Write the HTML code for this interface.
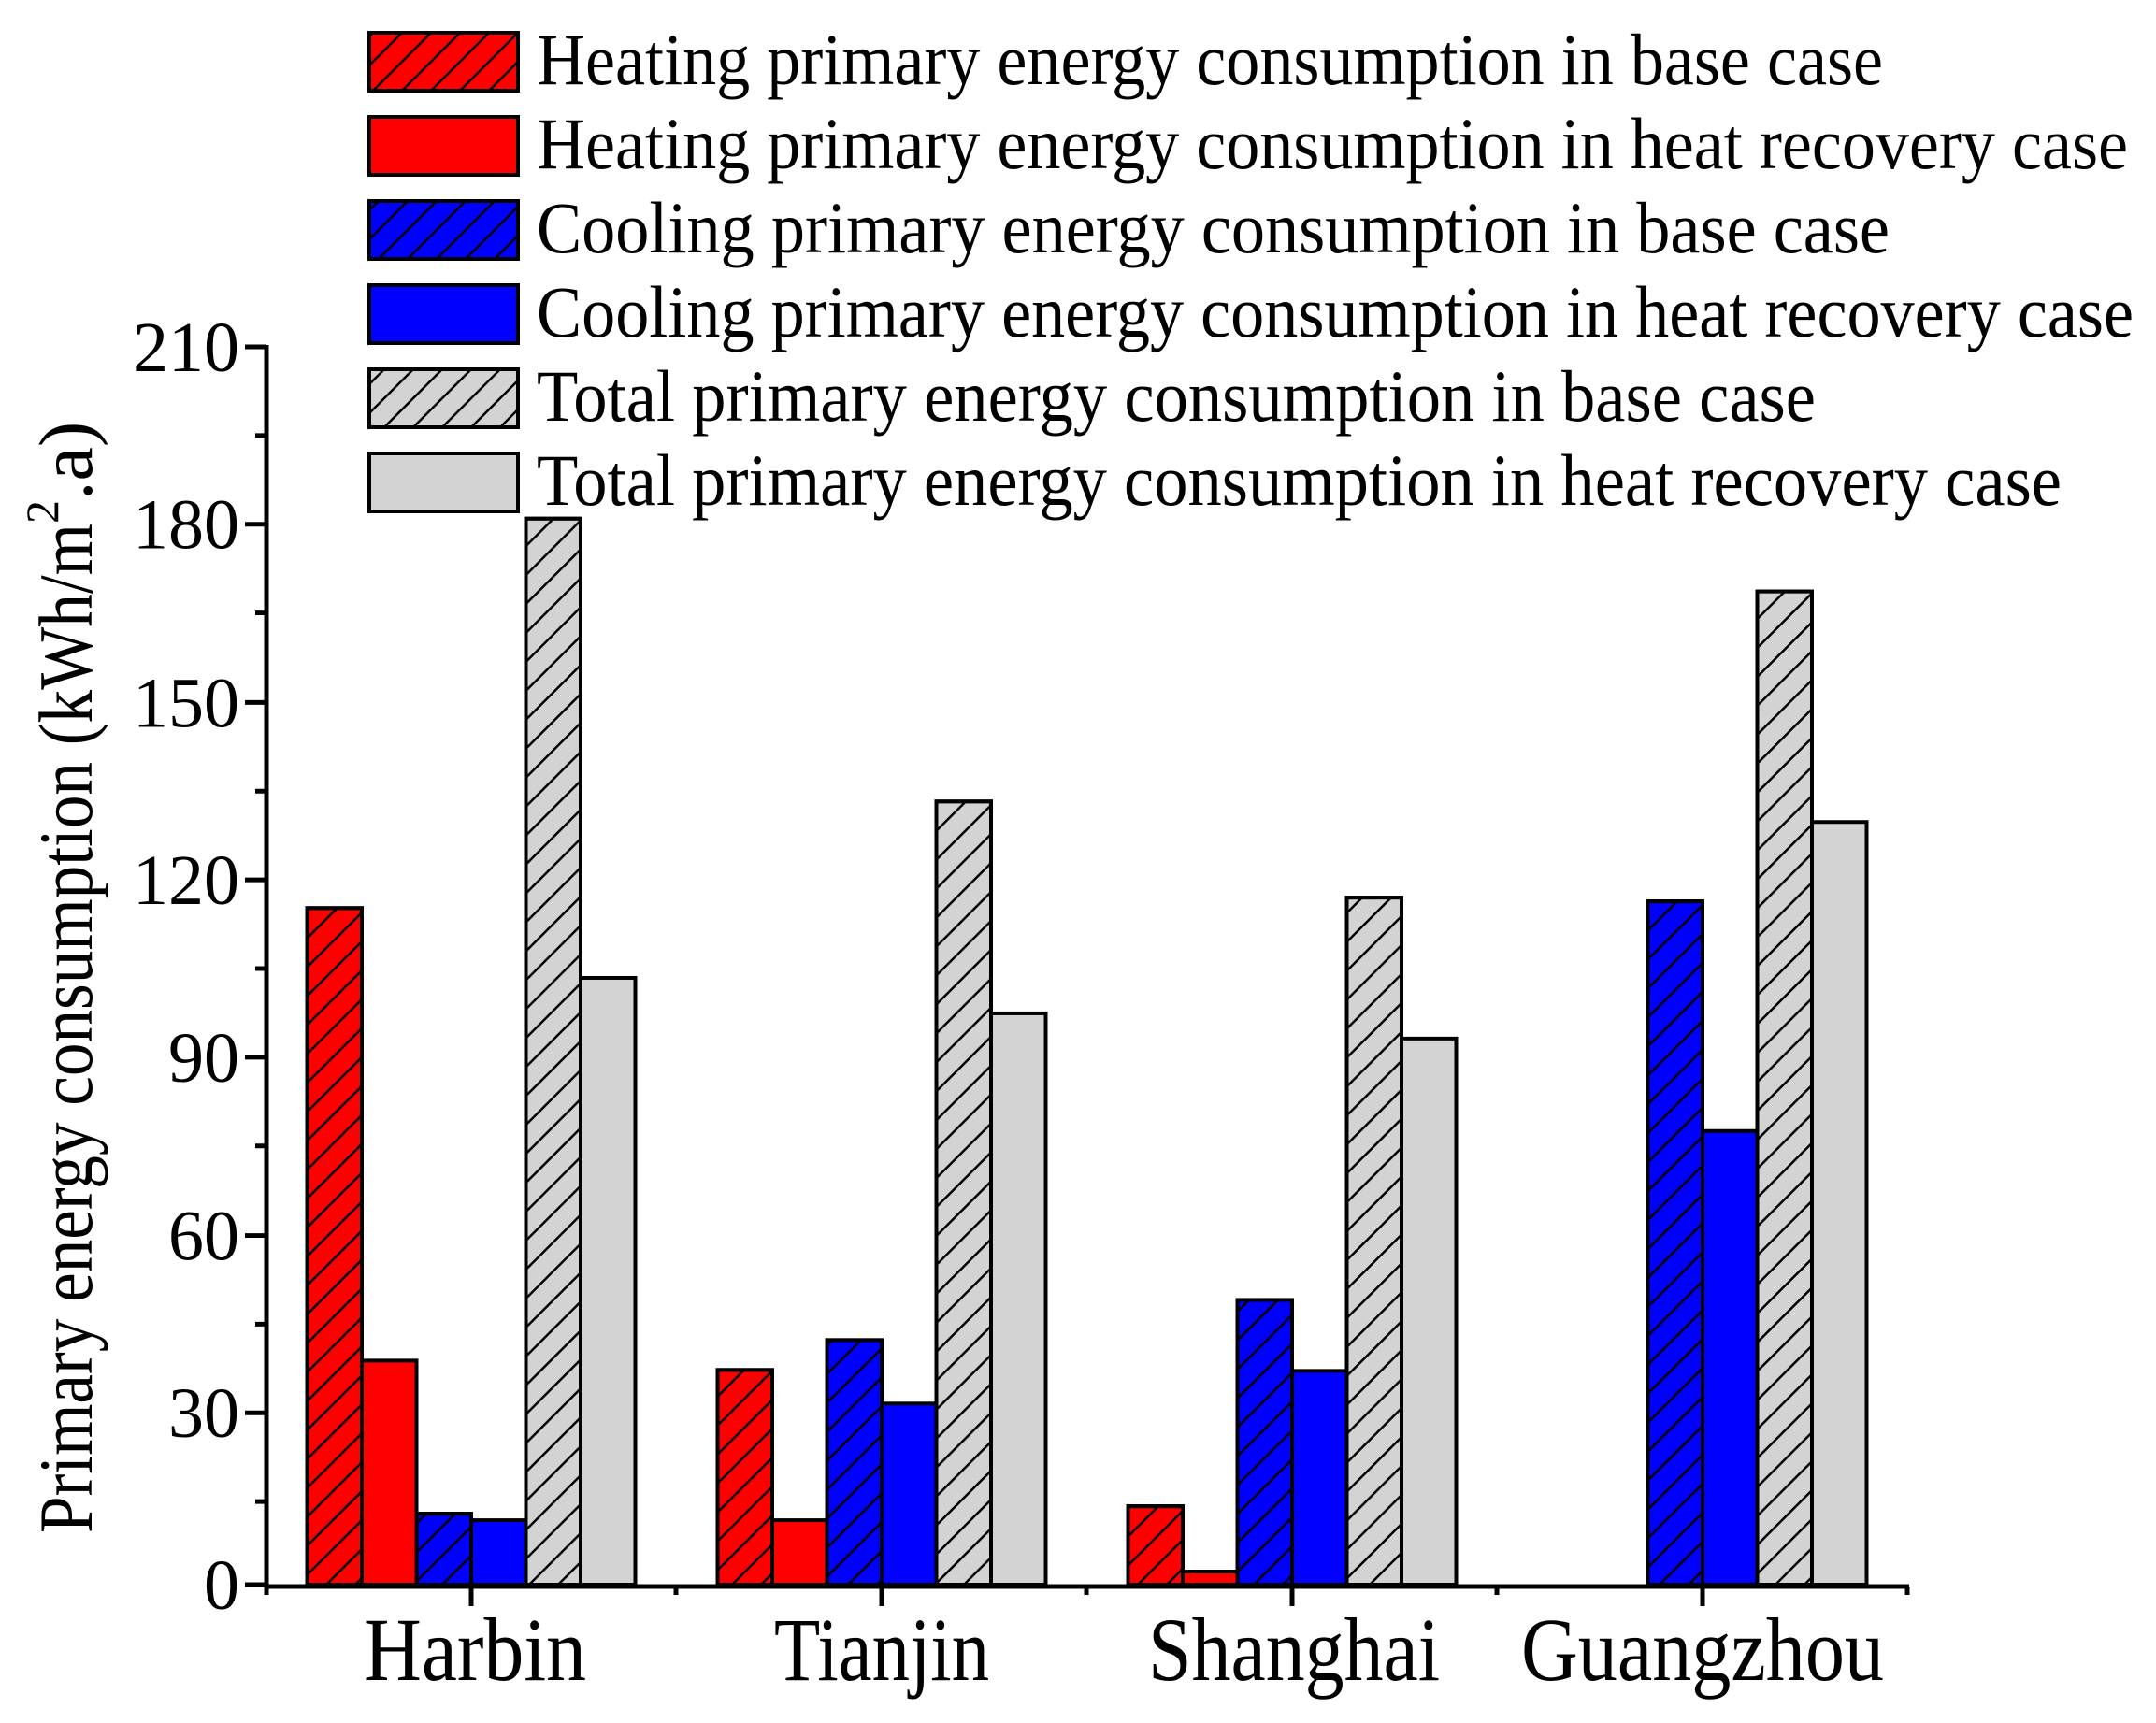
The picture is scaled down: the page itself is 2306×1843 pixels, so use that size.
<!DOCTYPE html>
<html><head><meta charset="utf-8"><style>
html,body{margin:0;padding:0;background:#fff;}
svg{display:block;}
text{font-family:"Liberation Serif",serif;fill:#000;}
</style></head><body>
<svg width="2306" height="1843" viewBox="0 0 2306 1843" xmlns="http://www.w3.org/2000/svg">
<defs>
<pattern id="h" patternUnits="userSpaceOnUse" width="31" height="31">
<path d="M-4,35 L35,-4 M-4,4 L4,-4 M27,35 L35,27" stroke="#000" stroke-width="2.5"/>
</pattern>
</defs>
<g transform="translate(0,1695) scale(1,0.9985) translate(0,-1697)">
<g stroke="#000" stroke-width="4">
<rect x="328.5" y="972.2" width="58.5" height="724.8" fill="#f00"/><rect x="328.5" y="972.2" width="58.5" height="724.8" fill="url(#h)"/>
<rect x="387" y="1457" width="58.5" height="240" fill="#f00"/>
<rect x="445.5" y="1621" width="58.5" height="76" fill="#00f"/><rect x="445.5" y="1621" width="58.5" height="76" fill="url(#h)"/>
<rect x="504" y="1628" width="58.5" height="69" fill="#00f"/>
<rect x="562.5" y="555" width="58.5" height="1142" fill="#d3d3d3"/><rect x="562.5" y="555" width="58.5" height="1142" fill="url(#h)"/>
<rect x="621" y="1047" width="58.5" height="650" fill="#d3d3d3"/>
<rect x="767.5" y="1467" width="58.5" height="230" fill="#f00"/><rect x="767.5" y="1467" width="58.5" height="230" fill="url(#h)"/>
<rect x="826" y="1628" width="58.5" height="69" fill="#f00"/>
<rect x="884.5" y="1435" width="58.5" height="262" fill="#00f"/><rect x="884.5" y="1435" width="58.5" height="262" fill="url(#h)"/>
<rect x="943" y="1503" width="58.5" height="194" fill="#00f"/>
<rect x="1001.5" y="858" width="58.5" height="839" fill="#d3d3d3"/><rect x="1001.5" y="858" width="58.5" height="839" fill="url(#h)"/>
<rect x="1060" y="1085" width="58.5" height="612" fill="#d3d3d3"/>
<rect x="1206.5" y="1613" width="58.5" height="84" fill="#f00"/><rect x="1206.5" y="1613" width="58.5" height="84" fill="url(#h)"/>
<rect x="1265" y="1683" width="58.5" height="14" fill="#f00"/>
<rect x="1323.5" y="1392" width="58.5" height="305" fill="#00f"/><rect x="1323.5" y="1392" width="58.5" height="305" fill="url(#h)"/>
<rect x="1382" y="1468" width="58.5" height="229" fill="#00f"/>
<rect x="1440.5" y="961" width="58.5" height="736" fill="#d3d3d3"/><rect x="1440.5" y="961" width="58.5" height="736" fill="url(#h)"/>
<rect x="1499" y="1112" width="58.5" height="585" fill="#d3d3d3"/>
<rect x="1762.5" y="965" width="58.5" height="732" fill="#00f"/><rect x="1762.5" y="965" width="58.5" height="732" fill="url(#h)"/>
<rect x="1821" y="1211" width="58.5" height="486" fill="#00f"/>
<rect x="1879.5" y="633" width="58.5" height="1064" fill="#d3d3d3"/><rect x="1879.5" y="633" width="58.5" height="1064" fill="url(#h)"/>
<rect x="1938" y="880" width="58.5" height="817" fill="#d3d3d3"/>
</g>
<g stroke="#000" stroke-width="5" fill="none">
<path d="M285,369 L285,1699 L2042,1699"/>
<path d="M262,371 H285 M262,561 H285 M262,752 H285 M262,942 H285 M262,1132 H285 M262,1323 H285 M262,1513 H285 M262,1697 H285"/>
<path d="M273,466 H285 M273,656 H285 M273,847 H285 M273,1037 H285 M273,1227 H285 M273,1418 H285 M273,1608 H285"/>
<path d="M504,1699 V1720 M943,1699 V1720 M1382,1699 V1720 M1821,1699 V1720"/>
<path d="M285,1699 V1708 M723,1699 V1708 M1162,1699 V1708 M1601,1699 V1708 M2040,1699 V1708"/>
</g>
<g font-size="76" text-anchor="end">
<text x="256" y="397" textLength="114" lengthAdjust="spacingAndGlyphs">210</text>
<text x="256" y="587" textLength="114" lengthAdjust="spacingAndGlyphs">180</text>
<text x="256" y="778" textLength="114" lengthAdjust="spacingAndGlyphs">150</text>
<text x="256" y="968" textLength="114" lengthAdjust="spacingAndGlyphs">120</text>
<text x="256" y="1158" textLength="76" lengthAdjust="spacingAndGlyphs">90</text>
<text x="256" y="1349" textLength="76" lengthAdjust="spacingAndGlyphs">60</text>
<text x="256" y="1539" textLength="76" lengthAdjust="spacingAndGlyphs">30</text>
<text x="256" y="1723" textLength="38" lengthAdjust="spacingAndGlyphs">0</text>
</g>
</g>
<g font-size="96">
<text x="389" y="1797" textLength="238" lengthAdjust="spacingAndGlyphs">Harbin</text>
<text x="828" y="1797" textLength="230" lengthAdjust="spacingAndGlyphs">Tianjin</text>
<text x="1228" y="1797" textLength="312" lengthAdjust="spacingAndGlyphs">Shanghai</text>
<text x="1627" y="1797" textLength="388" lengthAdjust="spacingAndGlyphs">Guangzhou</text>
</g>
<text transform="translate(98,1640) rotate(-90)" font-size="82"><tspan textLength="1080" lengthAdjust="spacingAndGlyphs">Primary energy consumption (kWh/m</tspan><tspan font-size="50" dy="-36">2</tspan><tspan dy="36">.a)</tspan></text>
<g stroke="#000" stroke-width="4">
<rect x="395" y="35" width="159" height="62" fill="#f00"/><rect x="395" y="35" width="159" height="62" fill="url(#h)"/>
<rect x="395" y="125" width="159" height="62" fill="#f00"/>
<rect x="395" y="215" width="159" height="62" fill="#00f"/><rect x="395" y="215" width="159" height="62" fill="url(#h)"/>
<rect x="395" y="305" width="159" height="62" fill="#00f"/>
<rect x="395" y="395" width="159" height="62" fill="#d3d3d3"/><rect x="395" y="395" width="159" height="62" fill="url(#h)"/>
<rect x="395" y="485" width="159" height="62" fill="#d3d3d3"/>
</g>
<g font-size="78">
<text x="574" y="90" textLength="1440" lengthAdjust="spacingAndGlyphs">Heating primary energy consumption in base case</text>
<text x="574" y="180" textLength="1702" lengthAdjust="spacingAndGlyphs">Heating primary energy consumption in heat recovery case</text>
<text x="574" y="270" textLength="1447" lengthAdjust="spacingAndGlyphs">Cooling primary energy consumption in base case</text>
<text x="574" y="360" textLength="1708" lengthAdjust="spacingAndGlyphs">Cooling primary energy consumption in heat recovery case</text>
<text x="574" y="450" textLength="1368" lengthAdjust="spacingAndGlyphs">Total primary energy consumption in base case</text>
<text x="574" y="540" textLength="1631" lengthAdjust="spacingAndGlyphs">Total primary energy consumption in heat recovery case</text>
</g>
</svg>
</body></html>
